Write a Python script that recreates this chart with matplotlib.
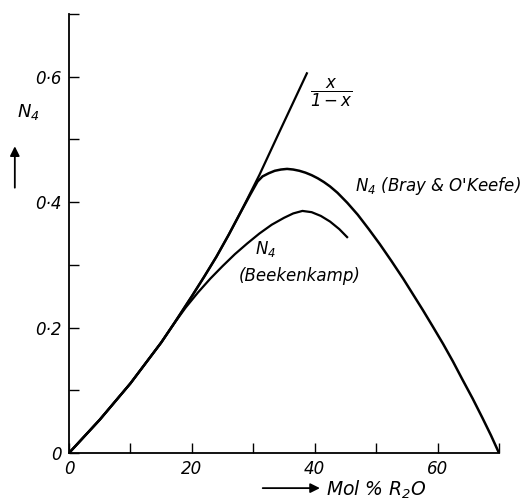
import matplotlib
matplotlib.use("Agg")
import matplotlib.pyplot as plt

# mol % R2O against N4 (fraction of four-coordinated boron)
ratio_x = [0, 5, 10, 15, 17, 20, 22, 24, 26, 28, 31, 34.3, 38.8]
ratio_y = [0, 0.053, 0.111, 0.176, 0.205, 0.25, 0.281, 0.313, 0.348, 0.385, 0.4435, 0.513, 0.607]

bray_x = [0, 5, 10, 15, 17, 20, 22, 24, 26, 28, 29.5, 30.7, 31.5, 32.5, 33.5, 34.5, 35.5, 36.5,
          37.5, 38.5, 39.5, 40.5, 41.5, 42.5, 43.7, 45.3, 47, 48.8, 50.6, 52.5, 54.4, 56,
          57.6, 59.2, 60.9, 62.5, 64, 65.7, 67.3, 68.7, 70]
bray_y = [0, 0.053, 0.111, 0.176, 0.205, 0.25, 0.281, 0.313, 0.348, 0.385, 0.412, 0.433, 0.441,
          0.446, 0.45, 0.452, 0.453, 0.452, 0.45, 0.447, 0.443, 0.438, 0.432, 0.425, 0.415, 0.399,
          0.38, 0.357, 0.333, 0.306, 0.278, 0.253, 0.228, 0.202, 0.174, 0.146, 0.118, 0.087,
          0.056, 0.028, 0]

beek_x = [0, 5, 10, 15, 17, 19, 21, 23, 25, 27, 29, 31, 33, 35, 36.5, 38, 39.5, 41, 42.5, 44, 45.4]
beek_y = [0, 0.053, 0.111, 0.176, 0.205, 0.232, 0.256, 0.278, 0.298, 0.317, 0.334, 0.35, 0.364,
          0.375, 0.382, 0.386, 0.384, 0.378, 0.369, 0.357, 0.343]

x_ticks = [0, 10, 20, 30, 40, 50, 60, 70]
x_labels = ["0", "", "20", "", "40", "", "60", ""]
y_ticks = [0, 0.1, 0.2, 0.3, 0.4, 0.5, 0.6, 0.7]
y_labels = ["0", "", "0·2", "", "0·4", "", "0·6", ""]

plt.rcParams['font.family'] = ['DejaVu Sans']
plt.rcParams['font.style'] = 'italic'
plt.rcParams['mathtext.fontset'] = 'dejavusans'

fig = plt.figure(figsize=(5.32, 5.04), dpi=100)
ax = fig.add_axes([69/532, 1 - 453/504, 430/532, 439/504])

ax.plot(ratio_x, ratio_y, color='black', lw=1.6, solid_capstyle='butt', solid_joinstyle='round')
ax.plot(bray_x, bray_y, color='black', lw=1.8, solid_joinstyle='round')
ax.plot(beek_x, beek_y, color='black', lw=1.6, solid_capstyle='butt', solid_joinstyle='round')

ax.set_xlim(0, 70)
ax.set_ylim(0, 0.7)
ax.spines['top'].set_visible(False)
ax.spines['right'].set_visible(False)
ax.spines['left'].set_linewidth(1.3)
ax.spines['bottom'].set_linewidth(1.3)

ax.set_xticks(x_ticks)
ax.set_xticklabels(x_labels, fontsize=12, style='italic')
ax.set_yticks(y_ticks)
ax.set_yticklabels(y_labels, fontsize=12, style='italic')
ax.tick_params(direction='in', length=7, width=1, pad=5)

# curve labels
ax.text(39.3, 0.574, r'$\dfrac{x}{1-x}$', fontsize=12, va='center', ha='left')
ax.text(46.5, 0.425, "$N_4$ (Bray & O'Keefe)", fontsize=12, va='center', ha='left')
ax.text(32, 0.326, r'$N_4$', fontsize=12, va='center', ha='center')
ax.text(37.5, 0.283, '(Beekenkamp)', fontsize=12, va='center', ha='center')

# axis titles with arrows
ax.annotate('', xy=(-0.126, 0.705), xytext=(-0.126, 0.598), xycoords='axes fraction',
            arrowprops=dict(arrowstyle='-|>', color='black', lw=1.3, mutation_scale=14))
ax.text(-0.095, 0.777, r'$N_4$', transform=ax.transAxes, fontsize=13, ha='center', va='center')
ax.annotate('', xy=(0.59, -0.080), xytext=(0.444, -0.080), xycoords='axes fraction',
            arrowprops=dict(arrowstyle='-|>', color='black', lw=1.3, mutation_scale=14))
ax.text(0.598, -0.083, r'Mol % R$_2$O', transform=ax.transAxes, fontsize=13.5, ha='left', va='center')

fig.savefig('out.png', dpi=100)
